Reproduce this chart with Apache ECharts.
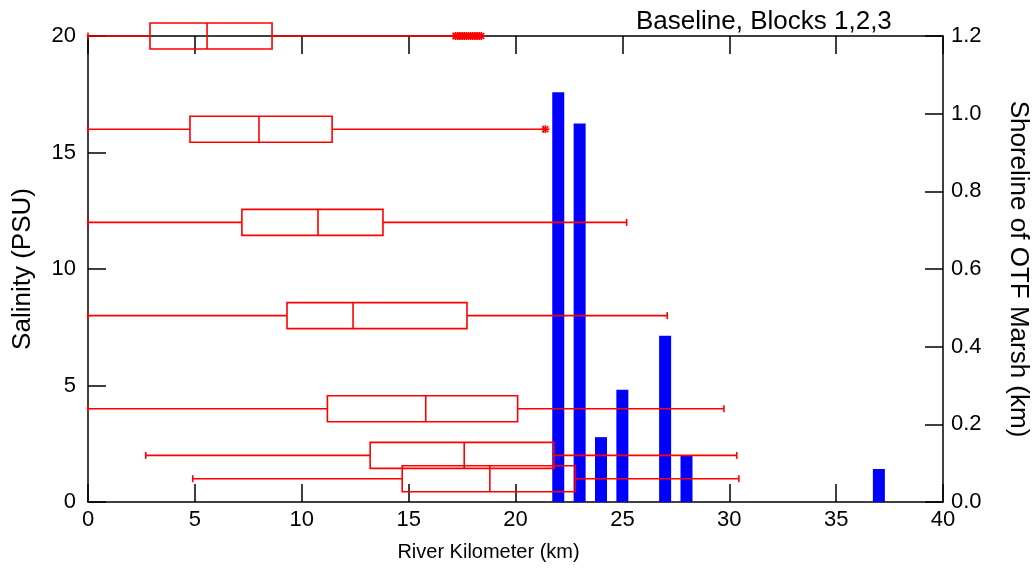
<!DOCTYPE html>
<html>
<head>
<meta charset="utf-8">
<script src="https://cdn.jsdelivr.net/npm/echarts@6/dist/echarts.min.js"></script>
<style>html,body{margin:0;padding:0;background:#fff}#c{width:1036px;height:571px}</style>
</head>
<body>
<div id="c"></div>
<script>
// Salinity box plots (horizontal, along river km)
var levels      = [20, 16, 12, 8, 4, 2, 1];
var whiskerLow  = [0, 0, 0, 0, 0, 2.7, 4.9];
var q1          = [2.9, 4.77, 7.2, 9.31, 11.2, 13.2, 14.7];
var median      = [5.57, 8.0, 10.76, 12.4, 15.8, 17.6, 18.8];
var q3          = [8.61, 11.42, 13.8, 17.73, 20.1, 21.8, 22.8];
var whiskerHigh = [17.1, 21.3, 25.2, 27.1, 29.75, 30.35, 30.45];
// Outliers
var outlierKm       = [17.2, 17.3, 17.4, 17.5, 17.6, 17.7, 17.8, 17.9, 18.0, 18.1, 18.2, 18.3, 18.4, 21.4];
var outlierSalinity = [20, 20, 20, 20, 20, 20, 20, 20, 20, 20, 20, 20, 20, 16];
// Shoreline of OTF marsh bars
var barKm  = [22, 23, 24, 25, 27, 28, 37];
var barLen = [1.055, 0.975, 0.167, 0.289, 0.428, 0.12, 0.085];

var FONT = 'Liberation Sans, Arial, sans-serif';
var RED = '#ff0000';

var boxData = levels.map(function (l, i) {
  return [l, whiskerLow[i], q1[i], median[i], q3[i], whiskerHigh[i]];
});
var outData = outlierKm.map(function (k, i) { return [k, outlierSalinity[i]]; });
var barData = barKm.map(function (k, i) { return [k, barLen[i]]; });

function boxRender(params, api) {
  var y = api.value(0);
  var lo = api.coord([api.value(1), y]);
  var b1 = api.coord([api.value(2), y]);
  var md = api.coord([api.value(3), y]);
  var b3 = api.coord([api.value(4), y]);
  var hi = api.coord([api.value(5), y]);
  var h = 13, cap = 3.5;
  var st = { stroke: RED, lineWidth: 1.6, fill: null };
  function ln(x1, y1, x2, y2) {
    return { type: 'line', shape: { x1: x1, y1: y1, x2: x2, y2: y2 }, style: st };
  }
  var cy = lo[1];
  return {
    type: 'group',
    children: [
      ln(lo[0], cy, b1[0], cy),
      ln(b3[0], cy, hi[0], cy),
      ln(lo[0], cy - cap, lo[0], cy + cap),
      ln(hi[0], cy - cap, hi[0], cy + cap),
      { type: 'rect', shape: { x: b1[0], y: cy - h, width: b3[0] - b1[0], height: 2 * h },
        style: { stroke: RED, lineWidth: 1.6, fill: 'rgba(0,0,0,0)' } },
      ln(md[0], cy - h, md[0], cy + h)
    ]
  };
}

function starRender(params, api) {
  var p = api.coord([api.value(0), api.value(1)]);
  var r = 4;
  var st = { stroke: RED, lineWidth: 1.6 };
  function ln(x1, y1, x2, y2) {
    return { type: 'line', shape: { x1: x1, y1: y1, x2: x2, y2: y2 }, style: st };
  }
  return {
    type: 'group',
    children: [
      ln(p[0] - r, p[1], p[0] + r, p[1]),
      ln(p[0], p[1] - r, p[0], p[1] + r),
      ln(p[0] - r * 0.75, p[1] - r * 0.75, p[0] + r * 0.75, p[1] + r * 0.75),
      ln(p[0] - r * 0.75, p[1] + r * 0.75, p[0] + r * 0.75, p[1] - r * 0.75)
    ]
  };
}

var axisLineStyle = { color: '#000', width: 1.5 };
var tickStyle = { color: '#000', width: 1.5 };
var labelStyle = { color: '#000', fontSize: 22, fontFamily: FONT };

var chart = echarts.init(document.getElementById('c'), null, { renderer: 'canvas' });
chart.setOption({
  animation: false,
  backgroundColor: '#fff',
  title: {
    text: 'Baseline, Blocks 1,2,3',
    left: 631, top: 4,
    textStyle: { fontSize: 26, fontWeight: 'normal', color: '#000', fontFamily: FONT }
  },
  grid: { left: 88, right: 93, top: 36, bottom: 69, containLabel: false, outerBoundsMode: 'none' },
  xAxis: [{
    type: 'value', min: 0, max: 40, interval: 5, position: 'bottom',
    axisLine: { show: true, onZero: false, lineStyle: axisLineStyle },
    axisTick: { show: true, inside: true, length: 18, lineStyle: tickStyle },
    axisLabel: Object.assign({ margin: 7 }, labelStyle),
    splitLine: { show: false },
    name: 'River Kilometer (km)', nameLocation: 'middle', nameGap: 40,
    nameTextStyle: { color: '#000', fontSize: 20, fontFamily: FONT, padding: [0, 54, 0, 0] }
  }, {
    type: 'value', min: 0, max: 40, interval: 5, position: 'top',
    axisLine: { show: true, onZero: false, lineStyle: axisLineStyle },
    axisTick: { show: true, inside: true, length: 18, lineStyle: tickStyle },
    axisLabel: { show: false },
    splitLine: { show: false }
  }],
  yAxis: [{
    type: 'value', min: 0, max: 20, interval: 5, position: 'left',
    axisLine: { show: true, onZero: false, lineStyle: axisLineStyle },
    axisTick: { show: true, inside: true, length: 18, lineStyle: tickStyle },
    axisLabel: Object.assign({ margin: 12 }, labelStyle),
    splitLine: { show: false },
    name: 'Salinity (PSU)', nameLocation: 'middle', nameGap: 52, nameRotate: 90,
    nameTextStyle: { color: '#000', fontSize: 26, fontFamily: FONT }
  }, {
    type: 'value', min: 0, max: 1.2, interval: 0.2, position: 'right',
    axisLine: { show: true, onZero: false, lineStyle: axisLineStyle },
    axisTick: { show: true, inside: true, length: 18, lineStyle: tickStyle },
    axisLabel: Object.assign({ margin: 8, formatter: function (v) { return v.toFixed(1); } }, labelStyle),
    splitLine: { show: false },
    name: 'Shoreline of OTF Marsh (km)', nameLocation: 'middle', nameGap: 62, nameRotate: -90,
    nameTextStyle: { color: '#000', fontSize: 26, fontFamily: FONT }
  }],
  series: [{
    type: 'bar', xAxisIndex: 0, yAxisIndex: 1,
    data: barData, barWidth: 12,
    itemStyle: { color: '#0000ff' }, z: 2
  }, {
    type: 'custom', xAxisIndex: 0, yAxisIndex: 0,
    renderItem: boxRender, data: boxData,
    encode: { x: [1, 2, 3, 4, 5], y: 0 }, z: 5, clip: false
  }, {
    type: 'custom', xAxisIndex: 0, yAxisIndex: 0,
    renderItem: starRender, data: outData,
    encode: { x: 0, y: 1 }, z: 6, clip: false
  }]
});
</script>
</body>
</html>
